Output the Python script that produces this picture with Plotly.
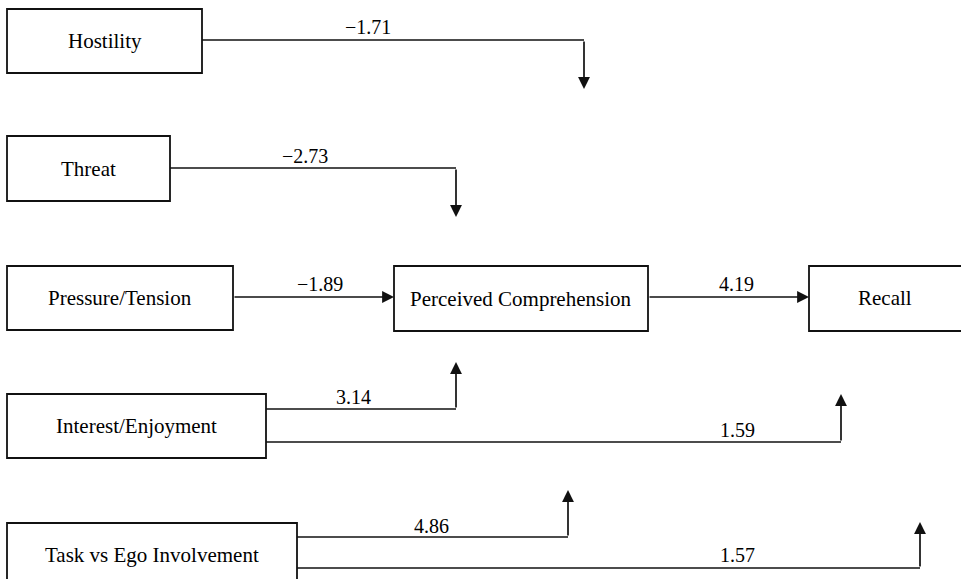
import plotly.graph_objects as go

# ---------------- data ----------------
nodes = ["Hostility", "Threat", "Pressure/Tension", "Perceived Comprehension",
         "Recall", "Interest/Enjoyment", "Task vs Ego Involvement"]
edge_from = ["Hostility", "Threat", "Pressure/Tension", "Perceived Comprehension",
             "Interest/Enjoyment", "Interest/Enjoyment",
             "Task vs Ego Involvement", "Task vs Ego Involvement"]
edge_to = ["Perceived Comprehension", "Perceived Comprehension", "Perceived Comprehension",
           "Recall", "Perceived Comprehension", "Recall",
           "Perceived Comprehension", "Recall"]
coefficients = [-1.71, -2.73, -1.89, 4.19, 3.14, 1.59, 4.86, 1.57]

# ---------------- layout geometry (pixel-like canvas) ----------------
W, H = 961, 579
box_geom = {
    "Hostility": (7, 202, 9, 73),
    "Threat": (7, 170, 136, 201),
    "Pressure/Tension": (7, 233, 266, 330),
    "Perceived Comprehension": (394, 648, 266, 331),
    "Recall": (809, 990, 266, 331),
    "Interest/Enjoyment": (7, 266, 394, 458),
    "Task vs Ego Involvement": (7, 297, 523, 590),
}
text_center = {
    "Task vs Ego Involvement": (152, 555),
    "Recall": (885, 298),
}
edge_paths = [
    [(202, 40), (584, 40), (584, 89)],
    [(170, 168), (456, 168), (456, 217)],
    [(233, 297), (394, 297)],
    [(648, 297), (809, 297)],
    [(266, 409), (456, 409), (456, 362)],
    [(266, 442), (841, 442), (841, 394)],
    [(297, 537), (568, 537), (568, 490)],
    [(297, 568), (920, 568), (920, 522)],
]
label_pos = [(368, 27), (305, 156), (320, 284), (736, 284),
             (353, 397), (737, 430), (431, 526), (737, 555)]

FONT = "Liberation Serif"
LINE = "#111111"

fig = go.Figure()
shapes, annotations = [], []

for name in nodes:
    x0, x1, y0, y1 = box_geom[name]
    shapes.append(dict(type="rect", xref="x", yref="y", x0=x0, x1=x1, y0=y0, y1=y1,
                       line=dict(color=LINE, width=1.8), fillcolor="white", layer="below"))
    cx, cy = text_center.get(name, ((x0 + x1) / 2, (y0 + y1) / 2))
    annotations.append(dict(x=cx, y=cy, xref="x", yref="y", text=name, showarrow=False,
                            font=dict(family=FONT, size=21, color="black")))

for path, coef, (lx, ly) in zip(edge_paths, coefficients, label_pos):
    for (xa, ya), (xb, yb) in zip(path[:-2], path[1:-1]):
        shapes.append(dict(type="line", xref="x", yref="y", x0=xa, y0=ya, x1=xb, y1=yb,
                           line=dict(color=LINE, width=1.7)))
    (xa, ya), (xb, yb) = path[-2], path[-1]
    annotations.append(dict(x=xb, y=yb, ax=xa, ay=ya, xref="x", yref="y",
                            axref="x", ayref="y", text="", showarrow=True,
                            arrowhead=2, arrowsize=1.4, arrowwidth=1.7,
                            arrowcolor=LINE, standoff=0, startstandoff=0))
    txt = f"{coef:.2f}".replace("-", "\u2212")
    annotations.append(dict(x=lx, y=ly, xref="x", yref="y", text=txt, showarrow=False,
                            font=dict(family=FONT, size=20, color="black")))

fig.update_layout(
    width=W, height=H,
    margin=dict(l=0, r=0, t=0, b=0),
    paper_bgcolor="white", plot_bgcolor="white",
    font=dict(family=FONT),
    xaxis=dict(range=[0, W], visible=False, fixedrange=True),
    yaxis=dict(range=[H, 0], visible=False, fixedrange=True),
    shapes=shapes, annotations=annotations,
    showlegend=False,
)

fig.write_html("out.html", config={"displayModeBar": False},
               post_script="document.body.style.margin='0';")
